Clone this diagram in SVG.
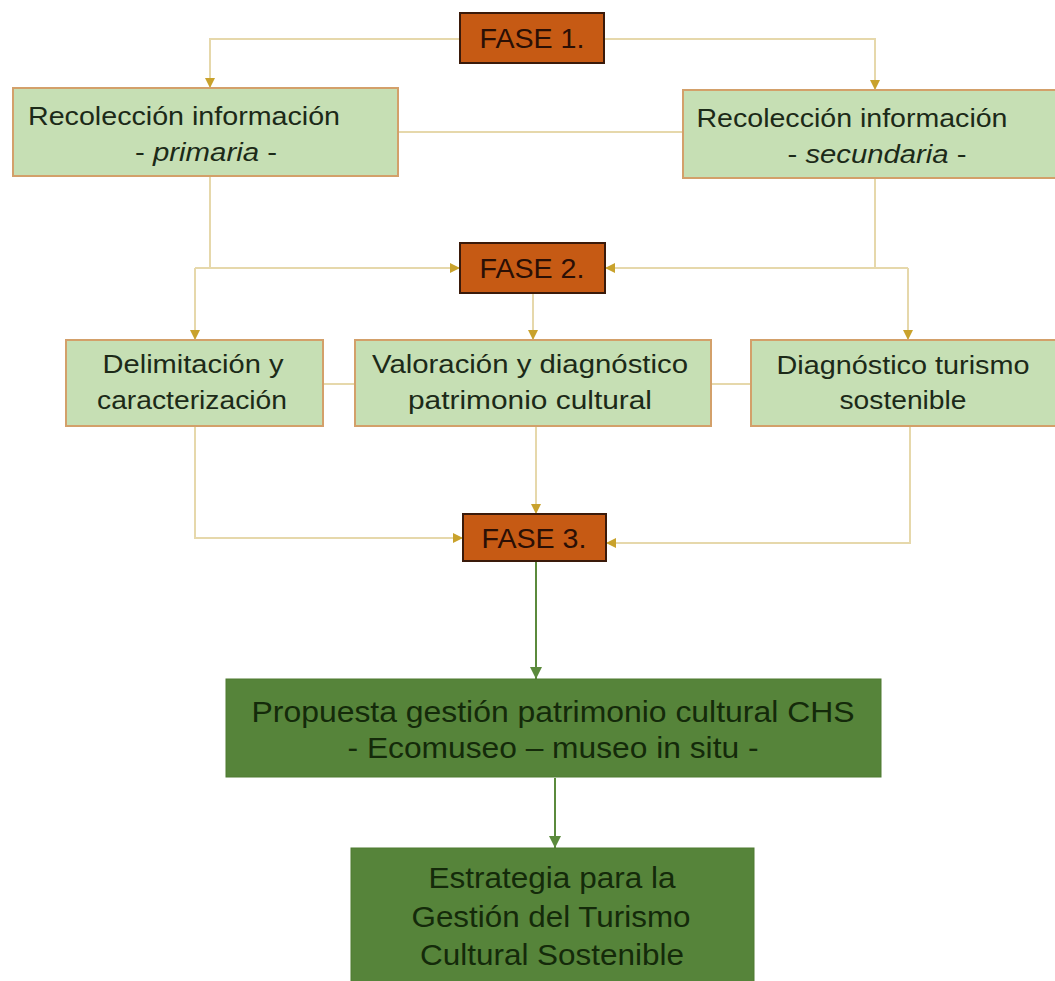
<svg xmlns="http://www.w3.org/2000/svg" width="1055" height="981" viewBox="0 0 1055 981">
<style>
.bg{fill:#ffffff}
.fase rect{fill:#c65a14;stroke:#3a1a0a;stroke-width:2}
.fase text{fill:#2a0f05;font-family:"Liberation Sans",Arial,sans-serif;font-size:27px;text-anchor:middle}
.lg rect{fill:#c6dfb4;stroke:#d3a06a;stroke-width:2}
.lg text{fill:#1c2a18;font-family:"Liberation Sans",Arial,sans-serif;font-size:25px;text-anchor:middle}
.dg rect{fill:#56843a;stroke:#4e7a31;stroke-width:1}
.dg text{fill:#142a0a;font-family:"Liberation Sans",Arial,sans-serif;font-size:29px;text-anchor:middle}
.c{fill:none;stroke:#e6d8ab;stroke-width:2}
.cg{fill:none;stroke:#5b8a3c;stroke-width:2}
</style>
<defs>
<marker id="ah" markerUnits="userSpaceOnUse" markerWidth="10" markerHeight="10" viewBox="0 0 10 10" refX="10" refY="5" orient="auto">
<path d="M0,0 L10,5 L0,10 z" fill="#c9a22c"/>
</marker>
<marker id="ahg" markerUnits="userSpaceOnUse" markerWidth="12" markerHeight="12" viewBox="0 0 10 10" refX="10" refY="5" orient="auto">
<path d="M0,0 L10,5 L0,10 z" fill="#5b8a3c"/>
</marker>
</defs>
<rect class="bg" x="0" y="0" width="1055" height="981"/>
<g id="connectors">
<path class="c" d="M460,39 H210 V88" marker-end="url(#ah)"/>
<path class="c" d="M604,39 H875 V90" marker-end="url(#ah)"/>
<path class="c" d="M398,132 H683"/>
<path class="c" d="M210,176 V268"/>
<path class="c" d="M875,178 V268"/>
<path class="c" d="M195,268 H460" marker-end="url(#ah)"/>
<path class="c" d="M195,268 V340" marker-end="url(#ah)"/>
<path class="c" d="M908,268 H605" marker-end="url(#ah)"/>
<path class="c" d="M908,268 V340" marker-end="url(#ah)"/>
<path class="c" d="M533,293 V340" marker-end="url(#ah)"/>
<path class="c" d="M323,384 H355"/>
<path class="c" d="M711,384 H751"/>
<path class="c" d="M195,426 V538 H463" marker-end="url(#ah)"/>
<path class="c" d="M536,426 V514" marker-end="url(#ah)"/>
<path class="c" d="M910,426 V543 H606" marker-end="url(#ah)"/>
<path class="cg" d="M536,561 V679" marker-end="url(#ahg)"/>
<path class="cg" d="M555,778 V848" marker-end="url(#ahg)"/>
</g>
<g id="fase1" class="fase">
<rect x="460" y="13" width="144" height="50"/>
<text x="532" y="48" textLength="105" lengthAdjust="spacingAndGlyphs">FASE 1.</text>
</g>
<g id="primaria" class="lg">
<rect x="13" y="88" width="385" height="88"/>
<text x="184" y="125" textLength="312" lengthAdjust="spacingAndGlyphs">Recolección  información</text>
<text x="206" y="161" textLength="142" lengthAdjust="spacingAndGlyphs">- <tspan font-style="italic">primaria</tspan> -</text>
</g>
<g id="secundaria" class="lg">
<rect x="683" y="90" width="380" height="88"/>
<text x="852" y="127" textLength="311" lengthAdjust="spacingAndGlyphs">Recolección  información</text>
<text x="877" y="163" textLength="179" lengthAdjust="spacingAndGlyphs">- <tspan font-style="italic">secundaria</tspan> -</text>
</g>
<g id="fase2" class="fase">
<rect x="460" y="243" width="145" height="50"/>
<text x="532" y="278" textLength="105" lengthAdjust="spacingAndGlyphs">FASE 2.</text>
</g>
<g id="delimitacion" class="lg">
<rect x="66" y="340" width="257" height="86"/>
<text x="193" y="373" textLength="181" lengthAdjust="spacingAndGlyphs">Delimitación  y</text>
<text x="192" y="409" textLength="190" lengthAdjust="spacingAndGlyphs">caracterización</text>
</g>
<g id="valoracion" class="lg">
<rect x="355" y="340" width="356" height="86"/>
<text x="530" y="373" textLength="316" lengthAdjust="spacingAndGlyphs">Valoración  y diagnóstico</text>
<text x="530" y="409" textLength="244" lengthAdjust="spacingAndGlyphs">patrimonio  cultural</text>
</g>
<g id="diagnostico" class="lg">
<rect x="751" y="340" width="310" height="86"/>
<text x="903" y="374" textLength="253" lengthAdjust="spacingAndGlyphs">Diagnóstico  turismo</text>
<text x="903" y="409" textLength="127" lengthAdjust="spacingAndGlyphs">sostenible</text>
</g>
<g id="fase3" class="fase">
<rect x="463" y="514" width="143" height="47"/>
<text x="534" y="548" textLength="105" lengthAdjust="spacingAndGlyphs">FASE 3.</text>
</g>
<g id="propuesta" class="dg">
<rect x="226" y="679" width="655" height="98"/>
<text x="553" y="722" textLength="603" lengthAdjust="spacingAndGlyphs">Propuesta gestión patrimonio cultural  CHS</text>
<text x="553" y="758" textLength="411" lengthAdjust="spacingAndGlyphs">- Ecomuseo – museo in situ -</text>
</g>
<g id="estrategia" class="dg">
<rect x="351" y="848" width="403" height="140"/>
<text x="552" y="888" textLength="247" lengthAdjust="spacingAndGlyphs">Estrategia para la</text>
<text x="551" y="927" textLength="279" lengthAdjust="spacingAndGlyphs">Gestión del Turismo</text>
<text x="552" y="965" textLength="264" lengthAdjust="spacingAndGlyphs">Cultural  Sostenible</text>
</g>
</svg>
